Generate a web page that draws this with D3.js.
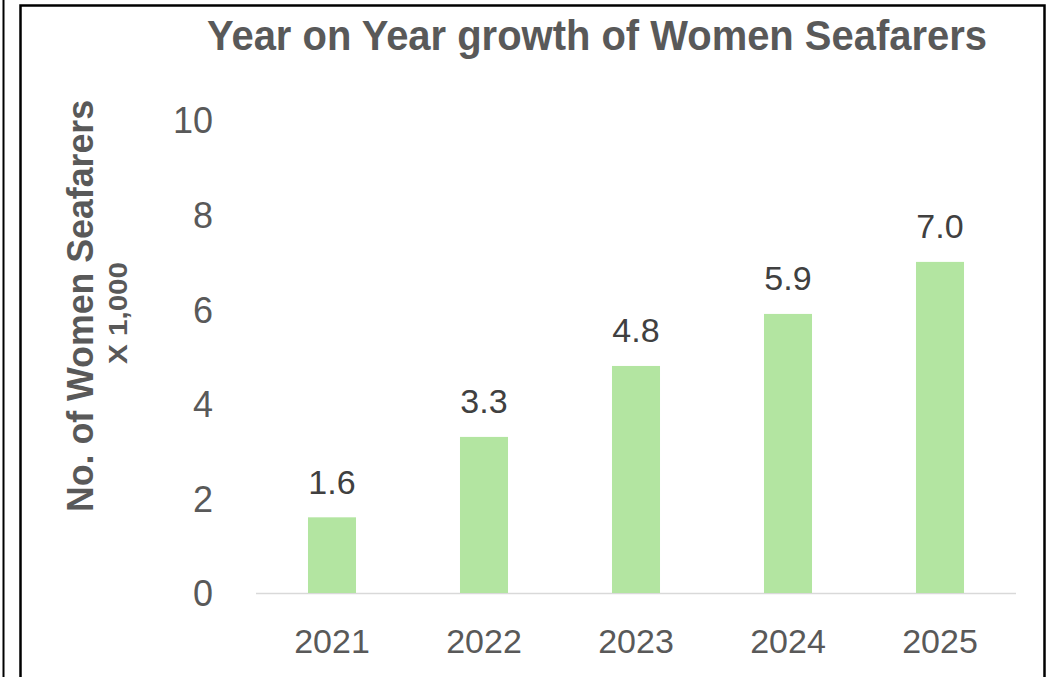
<!DOCTYPE html>
<html><head><meta charset="utf-8">
<script src="https://cdn.jsdelivr.net/npm/d3@7"></script>
<style>body{margin:0;background:#fff}svg{display:block}</style>
</head><body>
<script>
const years = ["2021","2022","2023","2024","2025"];
const values = [1.6, 3.3, 4.8, 5.9, 7.0];
const yTicks = [0, 2, 4, 6, 8, 10];
const titleText = "Year on Year growth of Women Seafarers";
const yTitle = "No. of Women Seafarers";
const ySubTitle = "X 1,000";

const W = 1046, H = 677;
const FONT = "'Liberation Sans', Arial, sans-serif";
const svg = d3.select("body").append("svg").attr("width", W).attr("height", H);

// frame lines
svg.append("line").attr("x1",3.5).attr("x2",3.5).attr("y1",0).attr("y2",H).attr("stroke","#000").attr("stroke-width",2);
svg.append("path").attr("d",`M20.5,${H} V5.5 H1044.5 V${H}`).attr("fill","none").attr("stroke","#000").attr("stroke-width",2.5);

const x = d3.scaleBand().domain(years).range([256, 1016]).paddingInner(0.684).paddingOuter(0.342);
const y = d3.scaleLinear().domain([0, 10]).range([593, 120]);

// baseline
svg.append("line").attr("x1",256).attr("x2",1016).attr("y1",y(0)+0.5).attr("y2",y(0)+0.5).attr("stroke","#d9d9d9").attr("stroke-width",1.5);

// y axis tick labels
const yAxis = d3.axisLeft(y).tickValues(yTicks).tickSize(0).tickPadding(0).tickFormat(d3.format("d"));
const gy = svg.append("g").attr("transform","translate(213,0)").call(yAxis);
gy.select(".domain").remove();
gy.selectAll("text").attr("font-family",FONT).attr("font-size",36).attr("fill","#595959").attr("dy","0.36em");

// x axis labels
const xAxis = d3.axisBottom(x).tickSize(0).tickPadding(0);
const gx = svg.append("g").attr("transform","translate(0,653)").call(xAxis);
gx.select(".domain").remove();
gx.selectAll("text").attr("font-family",FONT).attr("font-size",34).attr("fill","#595959").attr("dy","0");

// bars
svg.selectAll("rect.bar").data(values).join("rect").attr("class","bar")
  .attr("x",(d,i)=>x(years[i])).attr("width",x.bandwidth())
  .attr("y",d=>y(d)).attr("height",d=>y(0)-y(d)).attr("fill","#b3e5a1");

// data labels
svg.selectAll("text.lbl").data(values).join("text").attr("class","lbl")
  .attr("x",(d,i)=>x(years[i])+x.bandwidth()/2).attr("y",d=>y(d)-23.5)
  .attr("text-anchor","middle").attr("font-family",FONT)
  .attr("font-size",34).attr("fill","#404040").text(d=>d3.format(".1f")(d));

// title
svg.append("text").attr("x",597).attr("y",50).attr("text-anchor","middle")
  .attr("font-family",FONT).attr("font-weight","bold").attr("font-size",42)
  .attr("textLength",780).attr("lengthAdjust","spacingAndGlyphs")
  .attr("fill","#595959").text(titleText);

// y titles
svg.append("text").attr("transform","translate(93,306) rotate(-90)").attr("text-anchor","middle")
  .attr("font-family",FONT).attr("font-weight","bold")
  .attr("font-size",36).attr("textLength",412).attr("lengthAdjust","spacingAndGlyphs")
  .attr("fill","#595959").text(yTitle);
svg.append("text").attr("transform","translate(127,313) rotate(-90)").attr("text-anchor","middle")
  .attr("font-family",FONT).attr("font-weight","bold")
  .attr("font-size",26).attr("textLength",102).attr("lengthAdjust","spacingAndGlyphs")
  .attr("fill","#595959").text(ySubTitle);
</script>
</body></html>
